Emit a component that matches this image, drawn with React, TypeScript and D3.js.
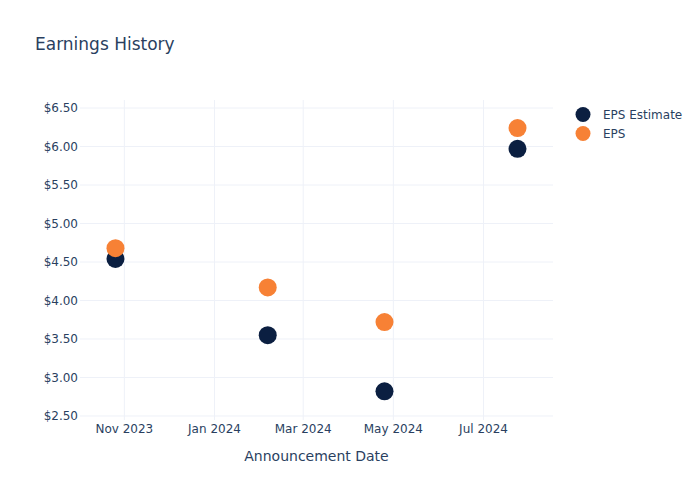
import React from "react";
import * as d3 from "d3";

const dates = ["2023-10-26", "2024-02-06", "2024-04-25", "2024-07-24"];
const epsEstimate = [4.54, 3.55, 2.82, 5.97];
const eps = [4.68, 4.17, 3.72, 6.24];
const yTicks = [2.5, 3, 3.5, 4, 4.5, 5, 5.5, 6, 6.5];
const xTicks = ["2023-11-01", "2024-01-01", "2024-03-01", "2024-05-01", "2024-07-01"];
const seriesNames = ["EPS Estimate", "EPS"];
const colors = ["#0b1f41", "#f78135"];

const W = 700, H = 500;
const L = 80, R = 553, T = 100, B = 420;
const FONT = "'DejaVu Sans', Verdana, sans-serif";
const TXT = "#2a3f5f";
const GRID = "#eef1f8";

export default function App() {
  const parse = d3.utcParse("%Y-%m-%d");
  const x = d3.scaleUtc()
    .domain([parse("2023-10-02")!, parse("2024-08-17")!])
    .range([L, R]);
  const y = d3.scaleLinear().domain([2.448, 6.604]).range([B, T]);
  const fmtX = d3.utcFormat("%b %Y");
  const series = [epsEstimate, eps];
  return (
    <div style={{ position: "absolute", left: 0, top: 0 }}>
      <svg width={W} height={H} style={{ fontFamily: FONT, display: "block", background: "#fff" }}>
        {yTicks.map((t) => (
          <line key={"gy" + t} x1={L} x2={R} y1={y(t)} y2={y(t)} stroke={GRID} strokeWidth={1} />
        ))}
        {xTicks.map((t) => (
          <line key={"gx" + t} x1={x(parse(t)!)} x2={x(parse(t)!)} y1={T} y2={B} stroke={GRID} strokeWidth={1} />
        ))}
        {yTicks.map((t) => (
          <text key={"ty" + t} x={L - 2} y={y(t)} dy="0.36em" textAnchor="end" fontSize={12} fill={TXT}>
            {"$" + d3.format(".2f")(t)}
          </text>
        ))}
        {xTicks.map((t) => (
          <text key={"tx" + t} x={x(parse(t)!)} y={B + 13} textAnchor="middle" fontSize={12} fill={TXT}>
            {fmtX(parse(t)!)}
          </text>
        ))}
        <text x={(L + R) / 2} y={461} textAnchor="middle" fontSize={14} fill={TXT}>Announcement Date</text>
        <text x={35} y={50} fontSize={17} fill={TXT}>Earnings History</text>
        {series.map((vals, si) =>
          vals.map((v, i) => (
            <circle key={si + "-" + i} cx={x(parse(dates[i])!)} cy={y(v)} r={9} fill={colors[si]} />
          ))
        )}
        {seriesNames.map((n, i) => (
          <g key={n} transform={`translate(583,${114.5 + i * 19})`}>
            <circle r={7.5} fill={colors[i]} />
            <text x={20} dy="0.36em" fontSize={12} fill={TXT}>{n}</text>
          </g>
        ))}
      </svg>
    </div>
  );
}
